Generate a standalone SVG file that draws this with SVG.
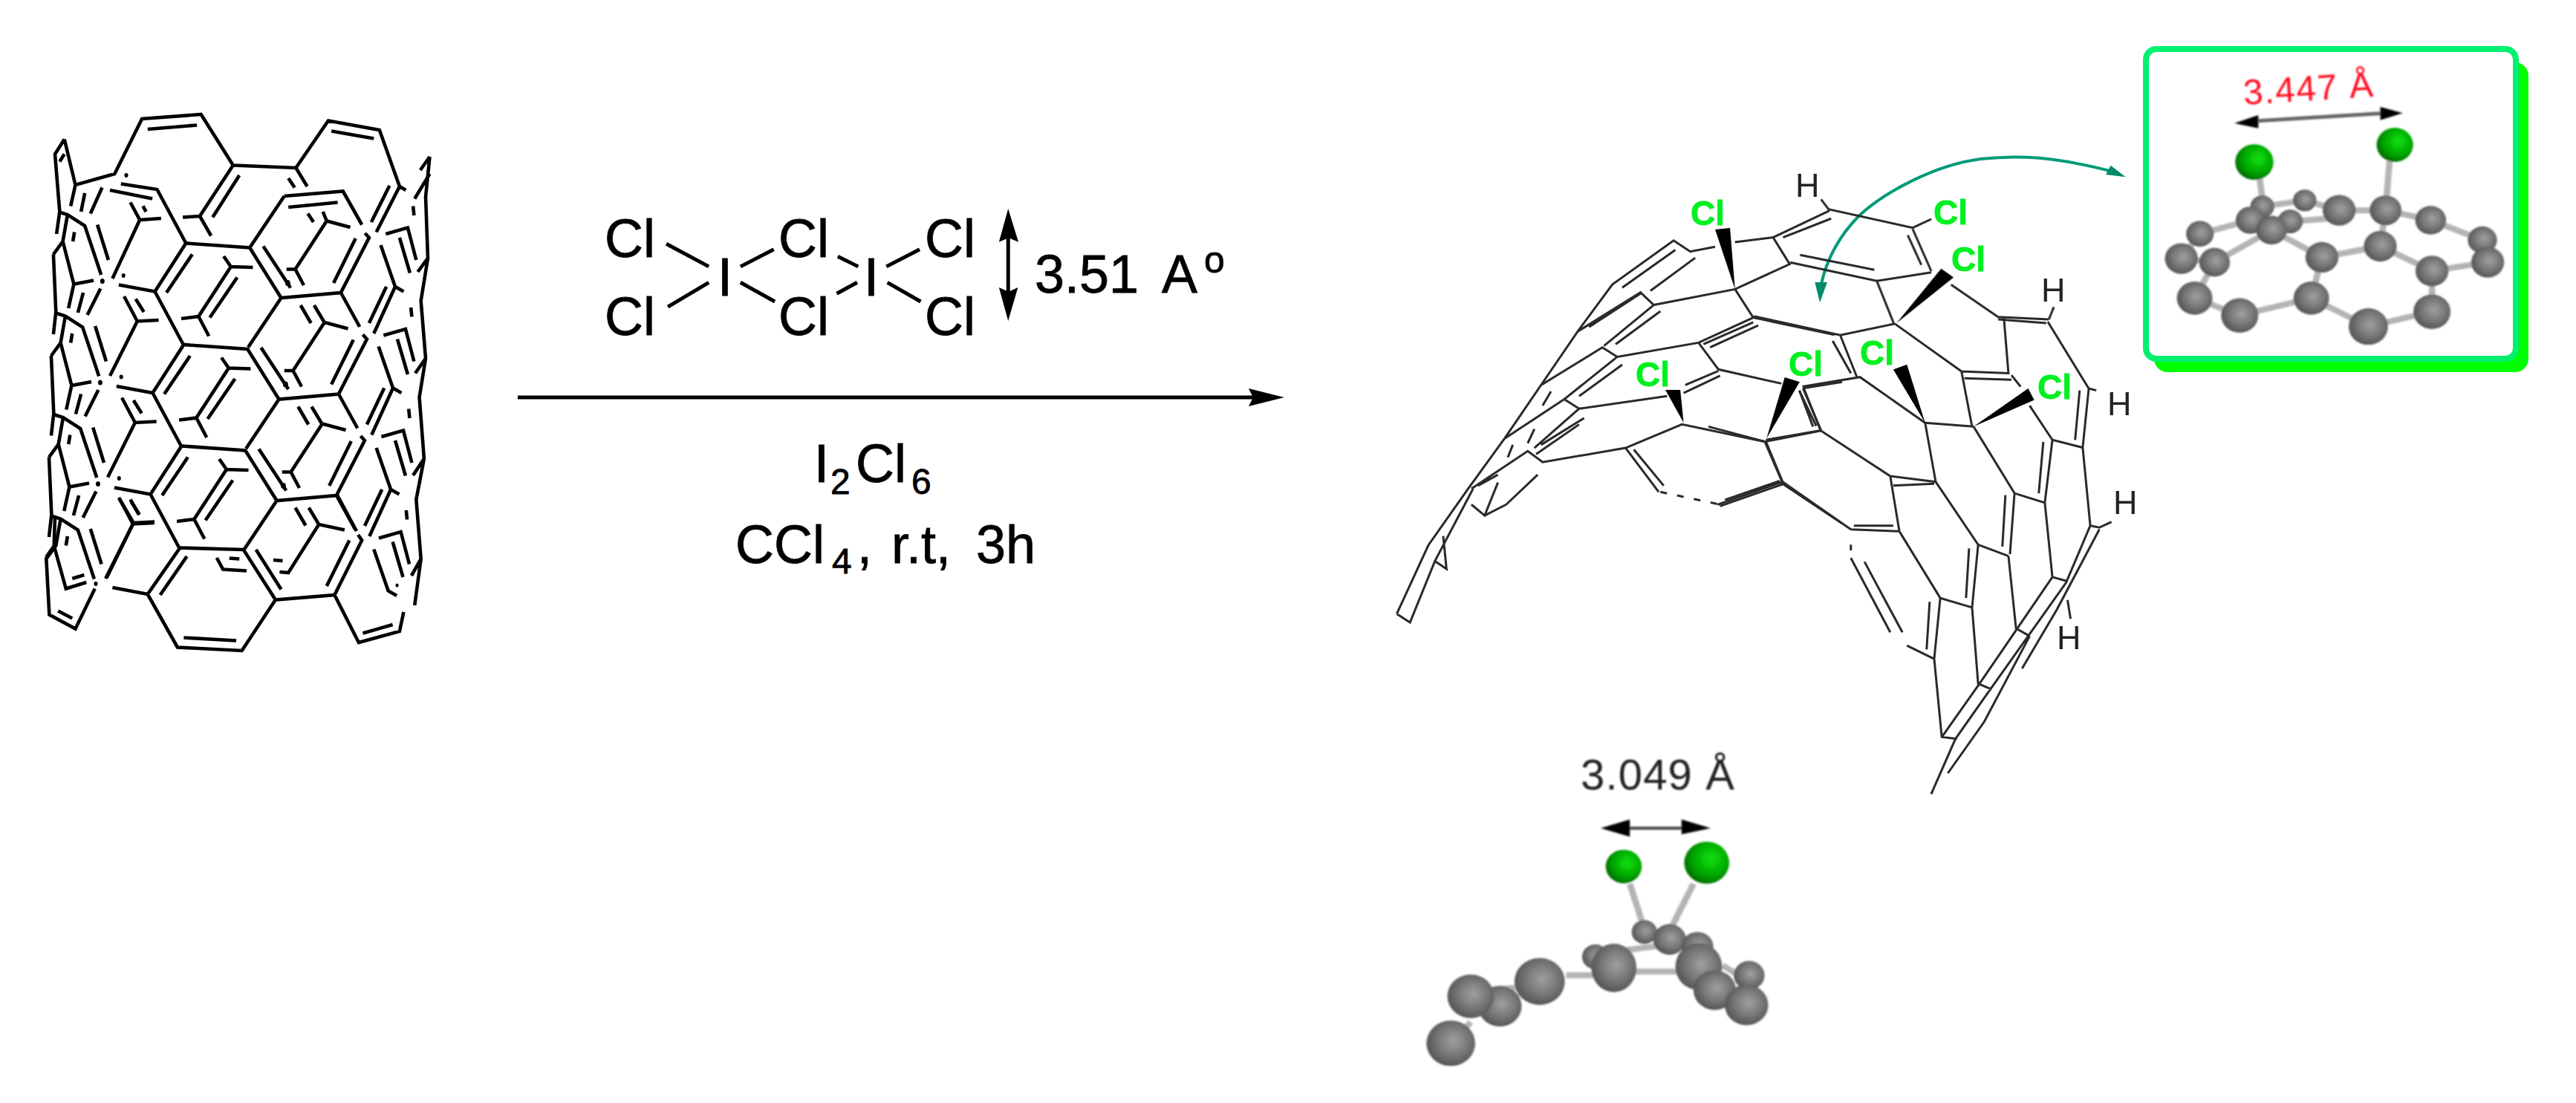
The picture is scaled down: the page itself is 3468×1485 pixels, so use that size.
<svg xmlns="http://www.w3.org/2000/svg" xmlns:xlink="http://www.w3.org/1999/xlink" width="3468" height="1485" viewBox="0 0 3468 1485">
<style>
text{font-family:"Liberation Sans",Arial,sans-serif}
.k{fill:none;stroke:#000;stroke-width:4.6;vector-effect:non-scaling-stroke}
.r{fill:none;stroke:#000;stroke-width:5;vector-effect:non-scaling-stroke}
.p{fill:none;stroke:#2a2a2a;stroke-width:3;vector-effect:non-scaling-stroke}
.t{font-size:72px;fill:#000;stroke:#000;stroke-width:.8}
.cl{font-size:46px;font-weight:bold;fill:#00f020;stroke:#00f020;stroke-width:.8}
.h{font-size:45px;fill:#222}
.s{stroke:#b4b4b4;stroke-width:24;fill:none}
.g{fill:url(#gr)}.c{fill:url(#gn)}
</style>
<defs>
<radialGradient id="gr" cx=".55" cy=".45" r=".6"><stop offset="0" stop-color="#a0a0a0"/><stop offset=".5" stop-color="#7a7a7a"/><stop offset="1" stop-color="#505050"/></radialGradient>
<radialGradient id="gn" cx=".6" cy=".4" r=".65"><stop offset="0" stop-color="#10e010"/><stop offset=".6" stop-color="#00a800"/><stop offset="1" stop-color="#006800"/></radialGradient>
<filter id="bl" x="-5%" y="-5%" width="110%" height="110%"><feGaussianBlur stdDeviation="0.6"/></filter>
<filter id="bb" x="-5%" y="-5%" width="110%" height="110%"><feGaussianBlur stdDeviation="1.3"/></filter>
<g id="centre">
<path class="k" d="M378,527L493,545L592,415L795,427L895,562L1085,548L1175,400L1162,388M493,545L585,690M895,562L790,695M1085,548L1145,640M612,445L530,548M838,423L925,535M1132,402L1062,522M712,450L735,478L805,480M735,478L632,612L577,618M632,612L665,665M755,507L668,615M1040,355L1115,372M1040,355L940,485L912,485M940,485L967,528M395,558L437,625L505,622M437,625L350,772M432,565L458,600M1258,532L1190,658M1230,532L1175,630M200,410L235,525L298,515M235,525L218,590M265,548L248,602M320,537L278,608M170,445L178,600L170,660"/>
<circle cx="326" cy="517" r="7"/><circle cx="393" cy="502" r="6"/><circle cx="916" cy="522" r="8"/>
</g>
<g id="edge">
<path class="k" d="M185,330L215,338L270,368L322,500M310,365L345,460M215,338L200,410L170,445M237,385L232,410M1228,390L1298,373L1325,460M1272,400L1305,495M1315,315L1318,340M1212,420L1258,532L1285,545"/>
</g>
<path id="vee" class="k" d="M1008,310L1040,355M965,310L998,358"/>
</defs>
<rect width="3468" height="1485" fill="#fff"/>

<g id="nanotube" transform="translate(0,120) scale(.4229,.5)">
<path class="k" d="M205,135L175,175L190,330L180,390M205,135L240,258L365,228L452,80L640,68L742,205L942,212L1045,85L1208,110L1272,262L1292,272M205,175L190,195M240,258L225,315M270,280L258,330M325,265L288,335M350,272L485,295M385,255L500,270L592,415M415,305L445,352L513,348M445,352L358,510M455,315L465,330M470,108L627,97M1055,113L1190,133M742,205L636,342L582,345M636,342L672,395M762,232L677,345M942,212L978,262M918,240L938,265M905,288L1092,275L1152,365M905,288L795,427M918,318L1075,305M1272,262L1198,385M1240,260L1182,358M980,335L998,358M1028,330L1040,355M1368,182L1355,290L1362,455L1340,570L1355,725L1335,830L1350,995L1325,1105L1340,1265L1320,1390M1368,182L1338,218M1368,228L1320,295M1362,455L1330,492M1355,725L1322,765M1350,995L1315,1040M1340,1265L1310,1310M358,1342L470,1360L573,1235L775,1240L877,1375L1065,1362L1152,1215L1140,1200M470,1360L565,1503L770,1512L877,1375M585,1477L752,1485M595,1258L510,1362M815,1240L895,1347M1112,1215L1040,1338M1065,1362L1142,1490L1272,1460L1285,1408M1155,1465L1250,1442M690,1262L710,1293L785,1297M730,1263L762,1265M870,1268L900,1270M890,1300L918,1302L1015,1172L1097,1187M172,1230L210,1345L275,1328M230,1318L268,1308M147,1260L157,1415L240,1453L302,1345M185,1405L230,1425M340,1315L425,1168L492,1165M378,1100L425,1168M415,1105L442,1145M175,1150L172,1230L147,1260M1073,1092L1135,1190"/>
<circle cx="305" cy="1332" r="6"/><circle cx="402" cy="232" r="6"/><circle cx="1264" cy="1336" r="5"/>
<use xlink:href="#centre" href="#centre"/>
<use xlink:href="#centre" href="#centre" transform="translate(-7,273)"/>
<use xlink:href="#centre" href="#centre" transform="translate(-14,546)"/>
<use xlink:href="#edge" href="#edge"/>
<use xlink:href="#edge" href="#edge" transform="translate(-7,273)"/>
<use xlink:href="#edge" href="#edge" transform="translate(-14,546)"/>
<use xlink:href="#edge" href="#edge" transform="translate(-22,819)"/>
<use xlink:href="#vee" href="#vee" transform="translate(-8,272)"/>
<use xlink:href="#vee" href="#vee" transform="translate(-16,545)"/>
<use xlink:href="#vee" href="#vee" transform="translate(-25,817)"/>
</g>

<g id="reagent">
<path class="r" transform="translate(680,240) scale(.689,.357)" d="M315,247L398,333M318,485L398,393M460,333L525,268M460,393L527,465M650,295L690,333M648,435L688,393M745,333L810,268M747,393L812,465M983,200L983,440"/>
<polygon transform="translate(680,240) scale(.689,.357)" points="983,115 1003,240 984,225 965,240"/>
<polygon transform="translate(680,240) scale(.689,.357)" points="983,538 1002,412 984,428 965,412"/>
<text class="t" x="814" y="346">Cl</text><text class="t" x="1048" y="346">Cl</text><text class="t" x="1245" y="346">Cl</text>
<text class="t" x="814" y="451">Cl</text><text class="t" x="1048" y="451">Cl</text><text class="t" x="1245" y="451">Cl</text>
<text class="t" x="966" y="398">I</text><text class="t" x="1163" y="398">I</text>
<text class="t" x="1393" y="394">3.51 <tspan x="1564">A</tspan><tspan x="1621" y="367" font-size="50">o</tspan></text>
<text class="t" x="1096" y="649">I<tspan x="1118" y="665" font-size="48">2</tspan><tspan x="1152" y="649">Cl</tspan><tspan x="1227" y="665" font-size="48">6</tspan></text>
<text class="t" x="990" y="758">CCl<tspan x="1120" y="772" font-size="48">4</tspan><tspan x="1154" y="758">,</tspan><tspan x="1180"> r.t,</tspan><tspan x="1294"> 3h</tspan></text>
</g>

<g id="connectors">
<path d="M697,535H1690" fill="none" stroke="#000" stroke-width="5"/>
<polygon points="1729,535 1681,523 1687,535 1681,547"/>
<g filter="url(#bl)" transform="translate(2400,180) scale(.3333)">
<path fill="none" stroke="#009a78" stroke-width="4" vector-effect="non-scaling-stroke" d="M155,610C175,520 220,420 310,330C420,230 620,125 800,102C950,85 1100,92 1340,155"/>
<polygon fill="#008a68" points="130,600 180,600 150,682"/>
<polygon fill="#008a68" points="1325,128 1385,175 1305,165"/>
</g>
</g>

<g id="product">
<g filter="url(#bl)">
<path class="p" transform="translate(1780,180) scale(.4464,.4231)" d="M225,1528L320,1310L440,1130L550,970L660,800L770,630L875,480L1060,340L1110,375L1185,360M225,1528L265,1555L340,1360L440,1160L455,1130M340,1360L375,1385L365,1280M450,1180L490,1215L530,1110M490,1215L555,1180M555,1180L650,1085M450,1130L620,1010L665,1045L915,1000L1085,925L1335,980L1505,945M550,970L730,845L775,875L1040,835M660,800L845,680L890,710L1135,665L1300,585L1545,640M770,630L960,505L1000,545L1245,495L1410,415L1360,330L1245,345M1245,495L1300,585M905,490L1065,370M990,500L1125,395M805,615L965,505M885,670L1020,565M1000,545L850,675M890,710L730,845M775,875L640,1000M775,835L905,735M660,990L790,905M645,1020L775,925M665,865L690,820M620,985L640,940M560,1030L575,990M470,1120L530,1085M1135,665L1195,750L1385,795M1150,670L1300,600M1170,680L1315,610M1090,825L1200,770M1095,800L1195,755M915,1000L1015,1140M940,1005L1030,1120M1200,1185L1390,1115M1215,1165L1380,1105M1335,980L1390,1115L1568,1240M1450,810L1505,945M1440,820L1490,930M1450,810L1568,790M1360,330L1530,245M1390,330L1535,270"/>
<path class="p" stroke-dasharray="9 14" transform="translate(1780,180) scale(.4464,.4231)" d="M1020,1140L1200,1180"/>
<path class="p" transform="translate(2400,180) scale(.3333)" d="M155,265L185,305L525,380L600,345M525,385L600,555M505,410L560,530M600,560L380,595L30,520M70,490L370,550M380,595L450,770M680,610L870,740L1075,750M870,750L1065,765M1075,750L1095,700"/>
<path class="p" transform="translate(2300,300) scale(.408,.5128)" d="M615,265L435,295L150,245M615,265L835,390L990,395L975,250M1120,260L1255,435L1280,440M845,408L1000,412M835,390L870,535M1000,400L1030,430M1060,480L1135,570L1235,590M875,535L1010,710L1110,735M1010,710L995,870M715,525L875,535M715,525L500,405L310,430M435,295L490,405M410,310L470,395M715,525L750,680L890,845L990,875M750,680L600,665L370,545L190,570M600,665L630,810M610,690L745,685M630,810L470,805M480,795L610,795M630,810L765,985L870,1010M470,805L245,680L190,575M315,435L370,545M300,440L345,535M0,535L190,575M245,680L30,740M470,880L600,1075M515,890L640,1075M655,1110L745,1145M765,985L745,1145L770,1350L820,1355M730,995L720,1120M890,845L870,1010L890,1210L935,1225M860,855L850,985M990,875L1015,1065L1060,1085M980,715L970,850M1135,570L1110,735L1135,930L1180,940M1105,575L1090,710M1235,590L1260,795L1290,800L1330,785M1225,440L1210,570M1255,435L1235,590M1260,795L1180,945L1055,1085L930,1225L815,1355L735,1500M1290,805L1150,1015L1035,1170M1135,930L1015,1070L890,1215L770,1350M1060,1085L910,1310L790,1445M1185,990L1195,1040M470,845L470,860"/>
<g transform="translate(1780,180) scale(.4464,.4231)">
<polygon points="1185,305 1230,300 1245,495"/>
<polygon points="1035,815 1080,815 1090,920"/>
<polygon points="1395,775 1440,790 1340,970"/>
</g>
<g transform="translate(2300,300) scale(.408,.5128)">
<polygon points="610,385 655,372 715,525"/>
<polygon points="1055,435 1075,465 875,535"/>
</g>
<polygon transform="translate(2400,180) scale(.3333)" points="460,765 640,545 690,580"/>
</g>
<g filter="url(#bl)">
<text class="h" x="2417" y="265">H</text><text class="h" x="2748" y="406">H</text><text class="h" x="2837" y="559">H</text><text class="h" x="2845" y="692">H</text><text class="h" x="2769" y="874">H</text>
<text class="cl" x="2276" y="303">Cl</text><text class="cl" x="2603" y="302">Cl</text><text class="cl" x="2627" y="365">Cl</text><text class="cl" x="2202" y="520">Cl</text><text class="cl" x="2408" y="506">Cl</text><text class="cl" x="2504" y="491">Cl</text><text class="cl" x="2743" y="537">Cl</text>
</g>
</g>

<g id="inset-top">
<rect x="2900" y="84" width="504" height="417" rx="18" fill="#00ff00"/>
<rect x="2889" y="66" width="498" height="417" rx="14" fill="#fff" stroke="#00f070" stroke-width="8"/>
<g filter="url(#bb)">
<text x="3021" y="141" transform="rotate(-3.6 3021 141)" font-size="48" fill="#ff1020" textLength="175">3.447 Å</text>
<g transform="translate(2860,40) scale(.357,.333)">
<path fill="none" stroke="#666" stroke-width="5" vector-effect="non-scaling-stroke" d="M505,368L965,338"/>
<polygon points="415,378 505,345 505,398"/><polygon points="1050,337 965,312 965,365"/>
<path class="s" d="M285,825L475,770M285,825L215,925M215,925L340,940M340,940L555,810M340,940L265,1085M265,1085L435,1155M435,1155L705,1085M705,1085L745,920M745,920L555,810M745,920L965,875M965,875L985,730M965,875L1160,975M705,1085L920,1200M920,1200L1160,1140M1160,1140L1160,975M1160,975L1370,940M1370,940L1350,850M1350,850L1155,770M1155,770L985,730M985,730L810,730M810,730L680,690M810,760L625,775M680,690L520,715M510,600L530,760M1000,530L985,730"/>
<circle class="g" cx="520" cy="715" r="45"/><circle class="g" cx="680" cy="690" r="44"/><circle class="g" cx="475" cy="770" r="55"/><circle class="g" cx="625" cy="775" r="48"/><circle class="g" cx="555" cy="810" r="58"/><circle class="g" cx="285" cy="825" r="52"/><circle class="g" cx="215" cy="925" r="62"/><circle class="g" cx="340" cy="940" r="58"/><circle class="g" cx="265" cy="1085" r="67"/><circle class="g" cx="435" cy="1155" r="70"/><circle class="g" cx="705" cy="1085" r="67"/><circle class="g" cx="920" cy="1200" r="74"/><circle class="g" cx="1160" cy="1140" r="70"/><circle class="g" cx="1160" cy="975" r="62"/><circle class="g" cx="965" cy="875" r="62"/><circle class="g" cx="745" cy="920" r="62"/><circle class="g" cx="1350" cy="850" r="55"/><circle class="g" cx="1370" cy="940" r="62"/><circle class="g" cx="1155" cy="770" r="58"/><circle class="g" cx="985" cy="730" r="60"/><circle class="g" cx="810" cy="730" r="62"/>
<circle class="c" cx="490" cy="535" r="72"/><circle class="c" cx="1020" cy="465" r="69"/>
</g>
</g>
</g>

<g id="inset-bottom">
<g filter="url(#bb)">
<text x="2128" y="1063" font-size="58" fill="#222" textLength="207">3.049 Å</text>
<g transform="translate(1880,980) scale(.357,.333)">
<path fill="none" stroke="#444" stroke-width="4" vector-effect="non-scaling-stroke" d="M880,405H1075"/>
<polygon points="770,405 880,370 880,440"/><polygon points="1185,405 1075,370 1075,430"/>
<path class="s" d="M880,630L925,780M1120,630L1040,800"/>
<path class="s" d="M640,1000L760,1000M890,985L1060,985M850,900L1000,880M280,1190L200,1275M350,1060L450,1050M1230,960L1290,1000"/>
<circle class="g" cx="935" cy="825" r="48"/><circle class="g" cx="750" cy="925" r="50"/><circle class="g" cx="1030" cy="855" r="62"/><circle class="g" cx="1135" cy="885" r="60"/><ellipse class="g" cx="820" cy="970" rx="85" ry="98"/>
<ellipse class="g" cx="1140" cy="965" rx="88" ry="95"/><circle class="g" cx="1200" cy="1060" r="80"/><circle class="g" cx="1330" cy="1000" r="58"/><circle class="g" cx="1320" cy="1120" r="82"/><circle class="g" cx="540" cy="1025" r="95"/><circle class="g" cx="390" cy="1125" r="82"/><circle class="g" cx="280" cy="1085" r="88"/><circle class="g" cx="205" cy="1275" r="92"/>
<circle class="c" cx="857" cy="560" r="68"/><circle class="c" cx="1170" cy="545" r="85"/>
</g>
</g>
</g>
</svg>
